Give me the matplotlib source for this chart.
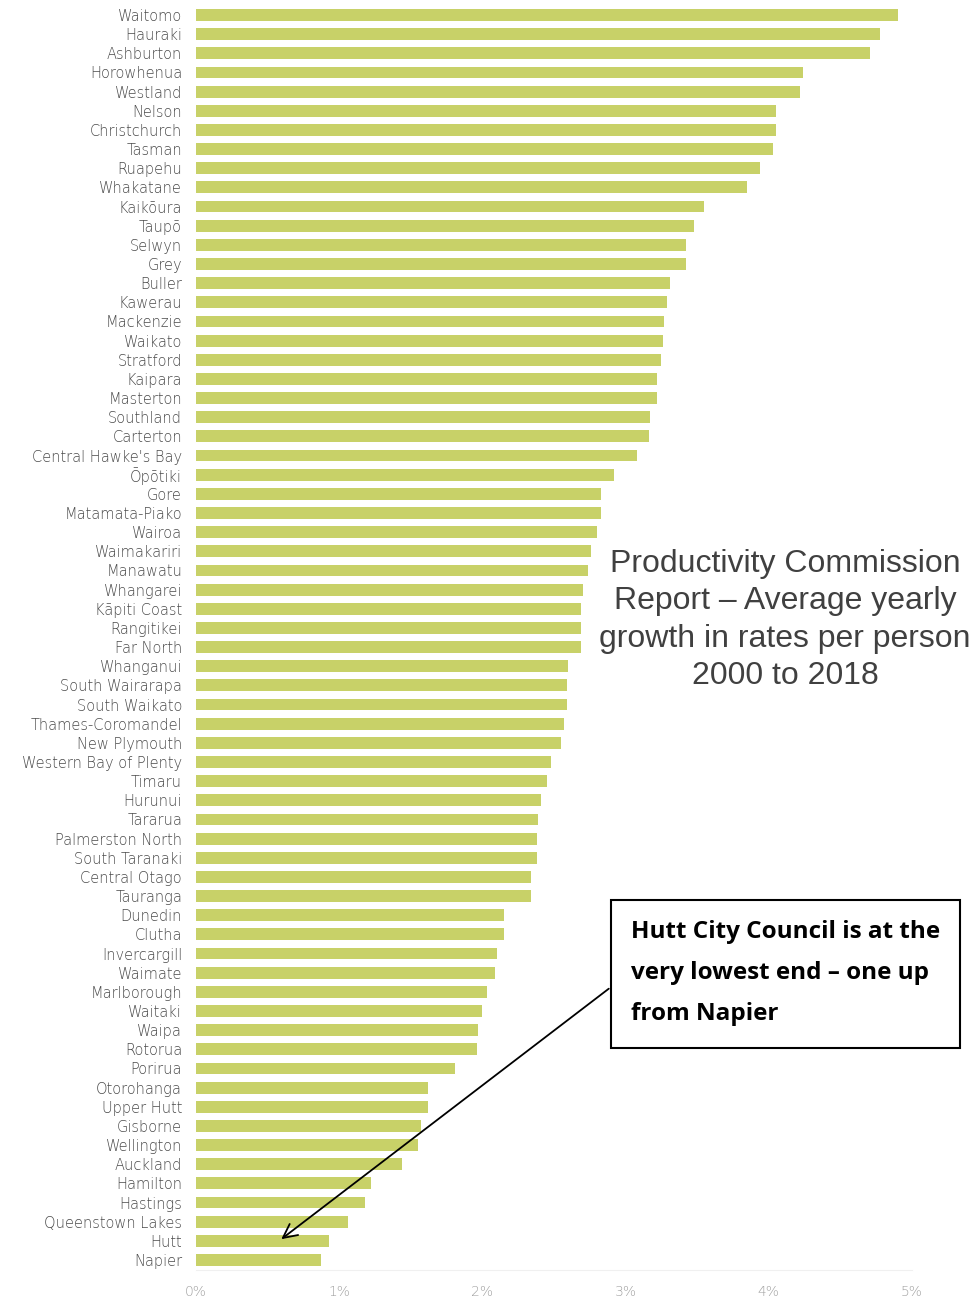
import matplotlib
matplotlib.use("Agg")
import matplotlib.pyplot as plt
from matplotlib.patches import Rectangle

councils = [
  "Waitomo", "Hauraki", "Ashburton", "Horowhenua", "Westland", "Nelson",
  "Christchurch", "Tasman", "Ruapehu", "Whakatane", "Kaikōura", "Taupō",
  "Selwyn", "Grey", "Buller", "Kawerau", "Mackenzie", "Waikato", "Stratford",
  "Kaipara", "Masterton", "Southland", "Carterton", "Central Hawke's Bay",
  "Ōpōtiki", "Gore", "Matamata-Piako", "Wairoa", "Waimakariri", "Manawatu",
  "Whangarei", "Kāpiti Coast", "Rangitikei", "Far North", "Whanganui",
  "South Wairarapa", "South Waikato", "Thames-Coromandel", "New Plymouth",
  "Western Bay of Plenty", "Timaru", "Hurunui", "Tararua", "Palmerston North",
  "South Taranaki", "Central Otago", "Tauranga", "Dunedin", "Clutha",
  "Invercargill", "Waimate", "Marlborough", "Waitaki", "Waipa", "Rotorua",
  "Porirua", "Otorohanga", "Upper Hutt", "Gisborne", "Wellington", "Auckland",
  "Hamilton", "Hastings", "Queenstown Lakes", "Hutt", "Napier",
]

# average yearly growth in rates per person, %
growth = [
  4.90, 4.78, 4.71, 4.24, 4.22, 4.05,
  4.05, 4.03, 3.94, 3.85, 3.55, 3.48,
  3.42, 3.42, 3.31, 3.29, 3.27, 3.26, 3.25,
  3.22, 3.22, 3.17, 3.16, 3.08,
  2.92, 2.83, 2.83, 2.80, 2.76, 2.74,
  2.70, 2.69, 2.69, 2.69, 2.60,
  2.59, 2.59, 2.57, 2.55,
  2.48, 2.45, 2.41, 2.39, 2.38,
  2.38, 2.34, 2.34, 2.15, 2.15,
  2.10, 2.09, 2.03, 2.00, 1.97, 1.96,
  1.81, 1.62, 1.62, 1.57, 1.55, 1.44,
  1.22, 1.18, 1.06, 0.93, 0.87,
]

xticks = [0, 1, 2, 3, 4, 5]
xtick_labels = ["0%", "1%", "2%", "3%", "4%", "5%"]

title_lines = "Productivity Commission\nReport – Average yearly\ngrowth in rates per person\n2000 to 2018"
note = "Hutt City Council is at the\nvery lowest end – one up\nfrom Napier"

fig = plt.figure(figsize=(9.8, 13), dpi=100)
ax = fig.add_axes([196 / 980, 1 - 1269.6 / 1300, (912 - 196) / 980, 1264.2 / 1300])

pos = list(range(len(councils)))
ax.barh(pos, growth, height=0.62, color="#c8d168")
ax.set_ylim(len(councils) - 0.5, -0.5)
ax.set_xlim(0, 5)

ax.set_yticks(pos)
ax.set_yticklabels(councils, fontsize=10.5, color="#4a4a4a", family="DejaVu Sans", fontweight="light")
ax.set_xticks(xticks)
ax.set_xticklabels(xtick_labels, fontsize=10, color="#a0a0a0", fontweight="light")
ax.tick_params(axis="y", length=0, pad=10)
ax.tick_params(axis="x", length=0, pad=11)

for side in ["top", "right", "left"]:
  ax.spines[side].set_visible(False)
ax.spines["bottom"].set_color("#f0f0f0")

fig.text(785 / 980, 1 - 620 / 1300, title_lines, ha="center", va="center",
         fontsize=23, color="#404040", family="Liberation Sans", linespacing=1.33)

# annotation box
fig.patches.append(Rectangle((611 / 980, 1 - 1048 / 1300), (960 - 611) / 980, 148 / 1300,
                             transform=fig.transFigure, fill=False, edgecolor="black", lw=1.5))
fig.text(631 / 980, 1 - 973 / 1300, note, ha="left", va="center",
         fontsize=17.5, fontweight="bold", family="Open Sans", color="black", linespacing=1.95)

ax.annotate("", xy=(0.58, 64), xytext=(611 / 980, 1 - 987 / 1300), textcoords="figure fraction",
            arrowprops=dict(arrowstyle="->", color="black", lw=1.3, mutation_scale=25))

fig.savefig("out.png", dpi=100)
